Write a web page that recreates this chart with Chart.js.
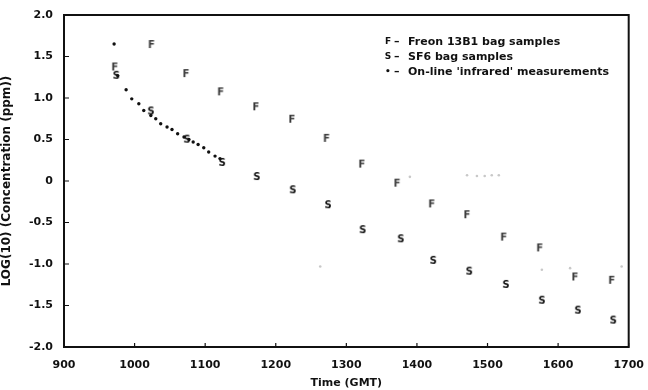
<!DOCTYPE html>
<html>
<head>
<meta charset="utf-8">
<script src="https://cdn.jsdelivr.net/npm/chart.js@4.4.1/dist/chart.umd.min.js"></script>
<style>
  html, body { margin: 0; padding: 0; background: #fff; }
  #wrap { width: 648px; height: 390px; }
</style>
</head>
<body>
<div id="wrap"><canvas id="chart"></canvas></div>
<script>
// Freon 13B1 bag samples (time GMT, log10 ppm)
const freonTimes  = [972, 1024, 1073, 1122, 1172, 1223, 1272, 1322, 1372, 1421, 1471, 1523, 1574, 1624, 1676];
const freonValues = [1.38, 1.65, 1.30, 1.08, 0.90, 0.75, 0.52, 0.21, -0.02, -0.27, -0.40, -0.67, -0.80, -1.15, -1.19];

// SF6 bag samples
const sf6Times  = [974, 1023, 1074, 1124, 1173, 1224, 1274, 1323, 1377, 1423, 1474, 1526, 1577, 1628, 1678];
const sf6Values = [1.28, 0.85, 0.51, 0.23, 0.06, -0.10, -0.28, -0.58, -0.69, -0.95, -1.08, -1.24, -1.43, -1.55, -1.67];

// on-line infrared measurements
const irTimes  = [971, 976, 988, 996, 1006, 1013, 1023, 1030, 1037, 1046, 1053, 1061, 1070, 1077, 1083, 1090, 1098, 1105, 1114, 1121];
const irValues = [1.65, 1.27, 1.10, 0.99, 0.93, 0.85, 0.79, 0.75, 0.69, 0.65, 0.62, 0.57, 0.53, 0.50, 0.47, 0.44, 0.40, 0.35, 0.30, 0.27];

// faint (poorly printed) infrared traces
const faintTimes  = [1263, 1390, 1471, 1485, 1496, 1506, 1516, 1577, 1617, 1690];
const faintValues = [-1.03, 0.05, 0.07, 0.06, 0.06, 0.07, 0.07, -1.07, -1.05, -1.03];

const xTicks = [900, 1000, 1100, 1200, 1300, 1400, 1500, 1600, 1700];
const yTicks = [-2.0, -1.5, -1.0, -0.5, 0, 0.5, 1.0, 1.5, 2.0];

const FONT = "'DejaVu Sans', 'Liberation Sans', sans-serif";

// letter glyphs used as point markers
function letterMarker(ch, size, color) {
  const c = document.createElement("canvas");
  c.width = size + 4; c.height = size + 4;
  const g = c.getContext("2d");
  g.font = "bold " + size + "px " + FONT;
  g.fillStyle = color;
  g.textAlign = "center";
  g.textBaseline = "middle";
  g.fillText(ch, c.width / 2, c.height / 2 + 1);
  return c;
}
const fMark = letterMarker("F", 10, "#3a3a3a");
const sMark = letterMarker("S", 10, "#111");

function toPoints(xs, ys) {
  return xs.map((x, i) => ({ x: x, y: ys[i] }));
}

// frame + inward tick marks + legend text
const framePlugin = {
  id: "frame",
  afterDraw(chart) {
    const ctx = chart.ctx;
    const a = chart.chartArea;
    const xs = chart.scales.x, ys = chart.scales.y;
    ctx.save();
    ctx.strokeStyle = "#111";
    ctx.lineWidth = 2;
    ctx.strokeRect(a.left, a.top, a.right - a.left, a.bottom - a.top);
    ctx.lineWidth = 1.2;
    ctx.beginPath();
    xTicks.forEach(t => {
      const px = xs.getPixelForValue(t);
      ctx.moveTo(px, a.bottom); ctx.lineTo(px, a.bottom - 4);
    });
    yTicks.forEach(t => {
      const py = ys.getPixelForValue(t);
      ctx.moveTo(a.left, py); ctx.lineTo(a.left + 5, py);
    });
    ctx.stroke();

    // legend
    const lx = a.left + 324, ly = a.top + 27;
    const rows = [
      { mark: "F", text: "Freon 13B1 bag samples" },
      { mark: "S", text: "SF6 bag samples" },
      { mark: "\u2022", text: "On-line 'infrared' measurements" }
    ];
    ctx.fillStyle = "#111";
    ctx.textBaseline = "middle";
    rows.forEach((r, i) => {
      const y = ly + i * 15;
      ctx.font = "bold 9px " + FONT;
      ctx.textAlign = "center";
      ctx.fillText(r.mark, lx, y);
      ctx.font = "bold 11px " + FONT;
      ctx.textAlign = "left";
      ctx.fillText("\u2013", lx + 6, y);
      ctx.fillText(r.text, lx + 20, y);
    });
    ctx.restore();
  }
};

new Chart(document.getElementById("chart"), {
  type: "scatter",
  data: {
    datasets: [
      {
        label: "faint",
        data: toPoints(faintTimes, faintValues),
        pointStyle: "circle",
        pointRadius: 1.3,
        backgroundColor: "#c8c8c8",
        borderWidth: 0
      },
      {
        label: "On-line 'infrared' measurements",
        data: toPoints(irTimes, irValues),
        pointStyle: "circle",
        pointRadius: 1.7,
        backgroundColor: "#111",
        borderWidth: 0
      },
      {
        label: "Freon 13B1 bag samples",
        data: toPoints(freonTimes, freonValues),
        pointStyle: fMark
      },
      {
        label: "SF6 bag samples",
        data: toPoints(sf6Times, sf6Values),
        pointStyle: sMark
      }
    ]
  },
  options: {
    responsive: true,
    maintainAspectRatio: false,
    animation: false,
    layout: { padding: { top: 15, right: 17, left: 0, bottom: 0 } },
    plugins: {
      legend: { display: false },
      tooltip: { enabled: false }
    },
    scales: {
      x: {
        type: "linear",
        min: 900,
        max: 1700,
        afterFit: s => { s.height = 43; },
        afterBuildTicks: s => { s.ticks = xTicks.map(v => ({ value: v })); },
        grid: { display: false },
        border: { display: false },
        ticks: {
          color: "#111",
          padding: 4,
          maxRotation: 0,
          font: { family: FONT, size: 11, weight: "bold" },
          callback: v => String(v)
        },
        title: {
          display: true,
          text: "Time (GMT)",
          color: "#111",
          padding: { top: 2, bottom: 0 },
          font: { family: FONT, size: 11, weight: "bold" }
        }
      },
      y: {
        type: "linear",
        min: -2,
        max: 2,
        afterFit: s => { s.width = 64; },
        afterBuildTicks: s => { s.ticks = yTicks.map(v => ({ value: v })); },
        grid: { display: false },
        border: { display: false },
        ticks: {
          color: "#111",
          padding: 3,
          font: { family: FONT, size: 11, weight: "bold" },
          callback: v => (v === 0 ? "0" : v.toFixed(1))
        },
        title: {
          display: true,
          text: "LOG(10) (Concentration (ppm))",
          color: "#111",
          padding: { top: 0, bottom: 3 },
          font: { family: FONT, size: 12, weight: "bold" }
        }
      }
    }
  },
  plugins: [framePlugin]
});
</script>
</body>
</html>
